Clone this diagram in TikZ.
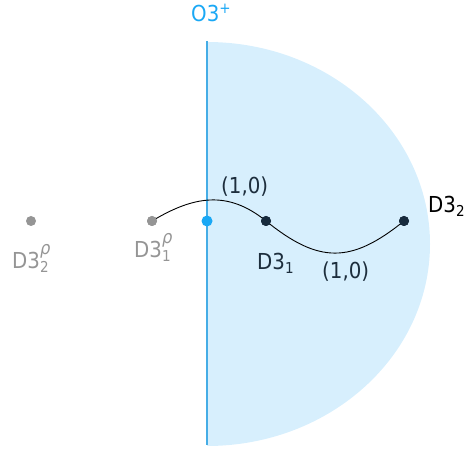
\documentclass[tikz,border=0pt]{standalone}
\usepackage{fontspec}
\setmainfont{DejaVu Sans Condensed}
\definecolor{diskfill}{HTML}{D7EFFD}
\definecolor{oline}{HTML}{45ADE6}
\definecolor{obright}{HTML}{1AA8F5}
\definecolor{darkdot}{HTML}{172B3D}
\definecolor{greydot}{HTML}{959595}
\definecolor{labdark}{HTML}{1D2E3D}
\newcommand\mysub[1]{\raisebox{-4pt}{\fontsize{15}{15}\selectfont #1}}
\newcommand\mysupsub[2]{\rlap{\raisebox{14.5pt}{\fontsize{18}{18}\selectfont\itshape #1}}\raisebox{-4pt}{\fontsize{15}{15}\selectfont #2}}
\newcommand\mysup[1]{\raisebox{8pt}{\fontsize{15}{15}\selectfont #1}}
\begin{document}
\begin{tikzpicture}[x=1pt,y=1pt,
  dot/.style={circle,inner sep=0pt,minimum size=10pt},
  lab/.style={anchor=base west,inner sep=0pt,font=\fontsize{22}{26}\selectfont}]
\useasboundingbox (0,0) rectangle (466,450);
% half disk
\fill[diskfill] (207,408) arc[start angle=90,end angle=-90,x radius=223,y radius=202] -- cycle;
\coordinate (ltop) at (207,409);
\coordinate (lbot) at (207,5);
\draw[oline,line width=1.2pt] (ltop) -- (lbot);
% dots
\node[dot,fill=greydot] (r2) at (31,229) {};
\node[dot,fill=greydot] (r1) at (152,229) {};
\node[dot,fill=obright,minimum size=11pt] (o) at (207,229) {};
\node[dot,fill=darkdot] (d1) at (266,229) {};
\node[dot,fill=darkdot] (d2) at (404,229) {};
% string
\draw[black,line width=0.9pt] (r1.center) .. controls +(31:49) and +(141:49) .. (d1.center)
  .. controls +(-39:68) and +(219:68) .. (d2.center);
\node[dot,fill=greydot] at (r1) {};
\node[dot,fill=darkdot] at (d1) {};
\node[dot,fill=darkdot] at (d2) {};
% labels
\node[lab,text=obright] (tO) at (191,428) {O3\mysup{+}};
\node[lab,text=labdark] (tu) at (221,256) {(1,0)};
\node[lab,text=labdark] (tl) at (322,171) {(1,0)};
\node[lab,text=labdark] (t1) at (257,180) {D3\mysub{1}};
\node[lab,text=black] (t2) at (428,237) {D3\mysub{2}};
\node[lab,text=greydot] (tr2) at (12,181) {D3\mysupsub{ρ}{2}};
\node[lab,text=greydot] (tr1) at (134,192) {D3\mysupsub{ρ}{1}};
\end{tikzpicture}
\end{document}
